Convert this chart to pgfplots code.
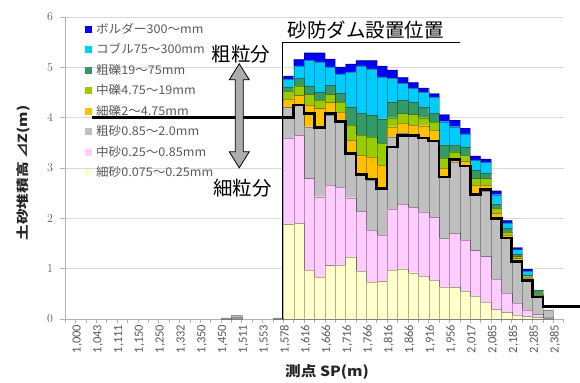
\documentclass[border=0pt]{standalone}
\usepackage{fontspec}
\usepackage{graphicx}
\setmainfont{Carlito}
\newfontfamily\jp{Noto Sans CJK JP}
\usepackage{pgfplots}
\pgfplotsset{compat=1.18}
\usepackage{pgfplotstable}

\definecolor{cY}{HTML}{FFFFCC}
\definecolor{cP}{HTML}{FFCCFF}
\definecolor{cG}{HTML}{C0C0C0}
\definecolor{cO}{HTML}{FFC000}
\definecolor{cL}{HTML}{99CC00}
\definecolor{cT}{HTML}{339966}
\definecolor{cS}{HTML}{00CCFF}
\definecolor{cB}{HTML}{0000FF}
\definecolor{txt}{HTML}{595959}

\pgfplotsset{myleg/.style={legend image code/.code={\fill[##1,draw=none] (0bp,-3.5bp) rectangle (7bp,3.5bp);}}}
\newcommand{\lgd}[1]{\scalebox{1.05}[1]{#1}}

\pgfplotstableread{
x  Y    P    G    O    L    T    S    B
15 0    0    0.02 0    0    0    0    0
16 0.01 0.02 0.04 0    0    0    0    0
20 0    0    0.02 0    0    0    0    0
21 1.88 1.72 0.60 0.17 0.15 0.08 0.16 0.07
22 1.90 1.75 0.60 0.19 0.19 0.15 0.25 0.13
23 0.97 1.82 1.03 0.43 0.21 0.17 0.51 0.15
24 0.83 1.60 1.37 0.38 0.17 0.16 0.60 0.18
25 1.06 1.60 1.39 0.25 0.16 0.18 0.37 0.16
26 1.07 1.55 1.30 0.19 0.20 0.17 0.39 0.14
27 1.23 1.18 0.88 0.26 0.30 0.36 0.70 0.16
28 0.95 1.19 0.73 0.38 0.41 0.42 0.95 0.11
29 0.74 1.03 0.99 0.46 0.40 0.43 0.92 0.17
30 0.75 0.92 0.91 0.48 0.43 0.49 0.83 0.22
31 0.97 1.22 1.43 0.20 0.18 0.31 0.47 0.17
32 1.00 1.28 1.42 0.19 0.19 0.27 0.33 0.12
33 0.92 1.30 1.46 0.17 0.21 0.25 0.27 0.12
34 0.85 1.28 1.49 0.22 0.16 0.20 0.30 0.09
35 0.77 1.25 1.53 0.20 0.16 0.17 0.33 0.07
36 0.64 0.96 1.23 0.17 0.20 0.25 0.47 0.14
37 0.63 1.07 1.42 0.08 0.12 0.13 0.37 0.13
38 0.56 1.01 1.46 0.10 0.12 0.17 0.26 0.11
39 0.46 0.90 1.14 0.16 0.13 0.17 0.19 0.09
40 0.34 0.90 1.31 0.11 0.13 0.10 0.22 0.07
41 0.19 0.60 1.23 0.08 0.10 0.09 0.18 0.08
42 0.13 0.39 1.10 0.05 0.06 0.07 0.11 0.05
43 0.08 0.24 0.84 0.04 0.04 0.04 0.10 0.04
44 0.05 0.13 0.62 0.02 0.02 0.03 0.08 0.04
45 0.03 0.06 0.38 0.01 0.02 0.07 0.01 0.00
46 0.01 0.03 0.14 0    0    0    0    0
}\sed

\pgfplotstableread{
x     z
2.08  4.00
21.5  4.25
22.5  4.08
23.5  3.80
24.5  4.08
25.5  3.92
26.5  3.29
27.5  2.87
28.5  2.78
29.5  2.59
30.5  3.42
31.5  3.65
32.5  3.65
33.5  3.60
34.5  3.54
35.5  2.82
36.5  3.17
37.5  3.04
38.5  2.47
39.5  2.57
40.5  2.00
41.5  1.61
42.5  1.14
43.5  0.77
44.5  0.44
45.5  0.245
49.07 0.245
}\bed

\begin{document}
\begin{tikzpicture}
\path[use as bounding box] (-65.2bp,-64bp) rectangle (514.8bp,319bp);
\begin{axis}[
  at={(0,0)}, anchor=south west,
  scale only axis, width=498.5bp, height=302bp,
  xmin=-0.5, xmax=47.5, ymin=0, ymax=6,
  ybar stacked, bar width=1,
  axis x line*=bottom, axis y line*=left,
  axis line style={draw=gray!60, line width=0.8pt},
  ymajorgrids, grid style={draw=gray!30, line width=1pt},
  ytick={0,1,...,6},
  tick align=outside, major tick length=5bp, minor tick length=4bp,
  tick style={draw=gray!60, line width=0.6pt},
  major x tick style={draw=none},
  xtick={0,2,...,46},
  minor xtick={-0.5,0.5,...,47.5},
  xticklabels={{1,000},{1,043},{1,111},{1,150},{1,250},{1,332},{1,350},{1,450},{1,511},{1,553},{1,578},{1,616},{1,666},{1,716},{1,766},{1,816},{1,866},{1,916},{1,956},{2,017},{2,085},{2,185},{2,285},{2,385}},
  x tick label style={rotate=90, anchor=east, inner sep=0pt, yshift=-7bp, xshift=-0.5bp, font=\fontsize{12.5bp}{12.5bp}\selectfont, text=txt},
  y tick label style={inner sep=0pt, xshift=-7bp, font=\fontsize{12.5bp}{12.5bp}\selectfont, text=txt},
  every axis plot/.append style={draw=black, draw opacity=0.3, line width=0.3pt},
  reverse legend,
  legend cell align=left,
  legend style={at={(axis cs:1.4,5.9)}, anchor=north west, draw=none, fill=none,
    font=\fontsize{12bp}{14bp}\selectfont\jp, text=txt, row sep=6.5bp, column sep=3bp, inner sep=0pt,
    nodes={inner sep=1bp, text height=10bp, text depth=2bp}},
]
\addplot[fill=cY, myleg] table[x=x,y=Y]{\sed};
\addlegendentry{\lgd{細砂0.075～0.25mm}}
\addplot[fill=cP, myleg] table[x=x,y=P]{\sed};
\addlegendentry{\lgd{中砂0.25～0.85mm}}
\addplot[fill=cG, myleg] table[x=x,y=G]{\sed};
\addlegendentry{\lgd{粗砂0.85～2.0mm}}
\addplot[fill=cO, myleg] table[x=x,y=O]{\sed};
\addlegendentry{\lgd{細礫2～4.75mm}}
\addplot[fill=cL, myleg] table[x=x,y=L]{\sed};
\addlegendentry{\lgd{中礫4.75～19mm}}
\addplot[fill=cT, myleg] table[x=x,y=T]{\sed};
\addlegendentry{\lgd{粗礫19～75mm}}
\addplot[fill=cS, myleg] table[x=x,y=S]{\sed};
\addlegendentry{\lgd{コブル75～300mm}}
\addplot[fill=cB, myleg] table[x=x,y=B]{\sed};
\addlegendentry{\lgd{ボルダー300～mm}}
\end{axis}
\begin{axis}[
  at={(0,0)}, anchor=south west,
  scale only axis, width=498.5bp, height=302bp,
  xmin=-0.5, xmax=47.5, ymin=0, ymax=6,
  hide axis, clip=false,
]
\addplot[const plot, black, line width=2.6pt, line join=miter] table[x=x,y=z]{\bed};
\draw[black, line width=1.3pt] (axis cs:20.45,0) -- (axis cs:20.45,5.5) -- (axis cs:37.5,5.5);
\node[font=\jp\fontsize{19.5bp}{20bp}\selectfont, inner sep=0pt] at (axis cs:28.46,5.75) {砂防ダム設置位置};
\node[font=\jp\fontsize{19.5bp}{20bp}\selectfont, inner sep=0pt] at (axis cs:16.43,5.265) {粗粒分};
\node[font=\jp\fontsize{19.5bp}{20bp}\selectfont, inner sep=0pt] at (axis cs:16.57,2.603) {細粒分};
\draw[fill=gray!65, draw=black, line width=0.8pt, line join=miter]
  (axis cs:16.26,5.07) -- ++(10bp,-16bp) -- ++(-6bp,0bp) -- ++(0bp,-72bp) -- ++(6bp,0bp)
  -- ++(-10bp,-16bp) -- ++(-10bp,16bp) -- ++(6bp,0bp) -- ++(0bp,72bp) -- ++(-6bp,0bp) -- cycle;
\node[font=\jp\bfseries\fontsize{14bp}{14bp}\selectfont, text=black!85, inner sep=0pt] at ([yshift=-53bp]axis cs:24.71,0) {\scalebox{1.12}[1]{測点 SP(m)}};
\node[font=\jp\bfseries\fontsize{12.5bp}{13bp}\selectfont, text=black!85, inner sep=0pt, rotate=90] at ([xshift=-41.9bp]axis cs:-0.5,2.90) {\scalebox{1.25}[1]{土砂堆積高 ⊿Z(m)}};
\end{axis}
\end{tikzpicture}
\end{document}
